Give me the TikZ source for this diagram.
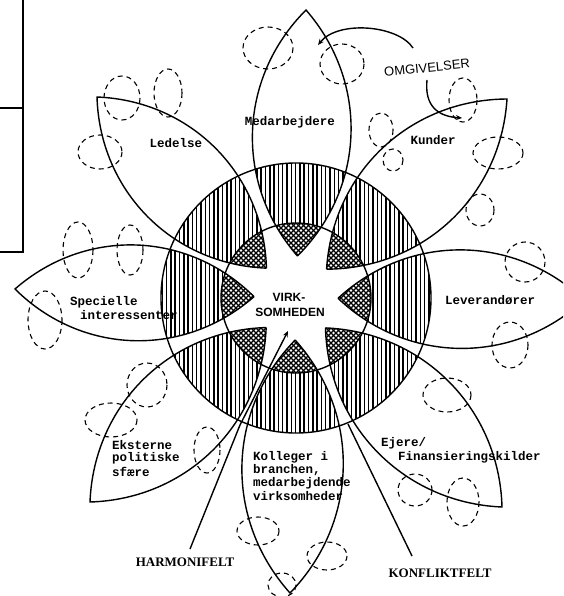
\documentclass[tikz,border=0pt]{standalone}
\usepackage{fontspec}
\setmainfont{Liberation Serif}
\newfontfamily\twfont{Liberation Mono}
\newfontfamily\handfont{Liberation Sans}
\usetikzlibrary{calc,arrows.meta}
\begin{document}
\begin{tikzpicture}[x=1pt,y=-1pt,
  edge/.style={line width=1.4pt},
  hatchline/.style={line width=1.5pt},
  meshline/.style={line width=1.4pt},
  cloudy/.style={dash pattern=on 5pt off 4pt, line width=1.1pt},
  lab/.style={font=\twfont\bfseries\fontsize{12.5}{13}\selectfont, inner sep=0pt},
  bigcaps/.style={font=\bfseries\fontsize{13}{14}\selectfont, inner sep=0pt},
  handcaps/.style={font=\handfont\fontsize{13}{14}\selectfont, inner sep=0pt},
  tip/.style={-{Stealth[length=6pt,width=5pt]}}
]
\useasboundingbox (0,0) rectangle (563,596);
\clip (0,0) rectangle (563,596);
\coordinate (C) at (296,298);
\foreach \i/\tx/\ty in {1/306/10, 2/507/99, 3/584/300, 4/502/507, 5/290/593, 6/90/502, 7/15/289, 8/97/97} {
  \coordinate (T\i) at (\tx,\ty);
  \coordinate (Q\i) at ($(C)!42pt!(T\i)$);
}
% hatching
\begin{scope}
  \clip \foreach \i in {1,...,8} {(Q\i) to[bend left=43] (T\i) to[bend left=43] (Q\i)};
  \clip (C) circle (135);
  \foreach \x in {158,162.3,...,436} \draw[hatchline] (\x,155) -- (\x,440);
  \fill[white] (C) circle (75);
  \clip (C) circle (75);
  \foreach \d in {-180,-175,...,180} {
    \draw[meshline] ($(C)+(\d,0)+(-90,-90)$) -- ($(C)+(\d,0)+(90,90)$);
    \draw[meshline] ($(C)+(\d,0)+(-90,90)$) -- ($(C)+(\d,0)+(90,-90)$);
  }
\end{scope}
% petals and circles
\draw[edge] \foreach \i in {1,...,8} {(Q\i) to[bend left=43] (T\i) to[bend left=43] (Q\i)};
\draw[edge] (C) circle (135);
\draw[edge] (C) circle (75);
% frame lines top left
\coordinate (f1) at (23,0); \coordinate (f2) at (23,252);
\coordinate (f3) at (0,108); \coordinate (f4) at (23,108); \coordinate (f5) at (0,252);
\draw[edge] (f1) -- (f2) -- (f5);
\draw[edge] (f3) -- (f4);
% clouds
\foreach \cx/\cy/\rx/\ry in {122/98/18/22, 168/93/14/24, 100/152/22/17, 78/250/15/28, 130/250/13/25,
  268/48/25/21, 342/64/22/20, 381/130/12/17, 393/160/10/11, 463/100/14/22, 498/153/25/16,
  480/210/14/16, 525/262/20/20, 510/345/18/23, 447/395/24/17, 415/490/17/16, 463/502/16/24,
  258/531/21/14, 327/556/20/14, 282/585/14/12, 111/420/26/17, 147/385/20/22, 207/450/13/23, 45/320/17/29}
  \draw[cloudy] (\cx,\cy) ellipse [x radius=\rx, y radius=\ry];
% labels
\node[lab] (led) at (176,143) {Ledelse};
\node[lab] (med) at (290,122) {Medarbejdere};
\node[lab] (kun) at (433,140) {Kunder};
\node[lab] (lev) at (490,300) {Leverandører};
\node[lab, anchor=west] (spe1) at (70,302) {Specielle};
\node[lab, anchor=west] (spe2) at (80,315) {interessenter};
\node[lab, anchor=west] (eks1) at (112,445) {Eksterne};
\node[lab, anchor=west] (eks2) at (112,458) {politiske};
\node[lab, anchor=west] (eks3) at (112,472) {sfære};
\node[lab, anchor=west] (kol1) at (253,457) {Kolleger i};
\node[lab, anchor=west] (kol2) at (253,470) {branchen,};
\node[lab, anchor=west] (kol3) at (253,483) {medarbejdende};
\node[lab, anchor=west] (kol4) at (253,496) {virksomheder};
\node[lab, anchor=west] (ej1) at (381,443) {Ejere/};
\node[lab, anchor=west] (ej2) at (398,457) {Finansieringskilder};
\node[handcaps, font=\handfont\bfseries\fontsize{12}{13}\selectfont] (vk1) at (289,297) {VIRK-};
\node[handcaps, font=\handfont\bfseries\fontsize{12}{13}\selectfont] (vk2) at (290,312) {SOMHEDEN};
\node[bigcaps] (har) at (185,562) {HARMONIFELT};
\node[bigcaps] (kon) at (440,573) {KONFLIKTFELT};
\node[handcaps, rotate=6] (omg) at (427,68) {OMGIVELSER};
% arrows
\coordinate (a1) at (413,48); \coordinate (a2) at (318,45);
\draw[edge, tip] (a1) .. controls (398,25) and (338,20) .. (a2);
\coordinate (b1) at (427,80); \coordinate (b2) at (462,118);
\draw[edge, tip] (b1) .. controls (425,100) and (432,116) .. (b2);
\coordinate (h1) at (190,549); \coordinate (h2) at (240,425); \coordinate (h3) at (288,331);
\draw[edge, tip] (h1) -- (h2) -- (h3);
\coordinate (k1) at (412,556); \coordinate (k2) at (348,424);
\draw[edge] (k1) -- (k2);
\end{tikzpicture}
\end{document}
